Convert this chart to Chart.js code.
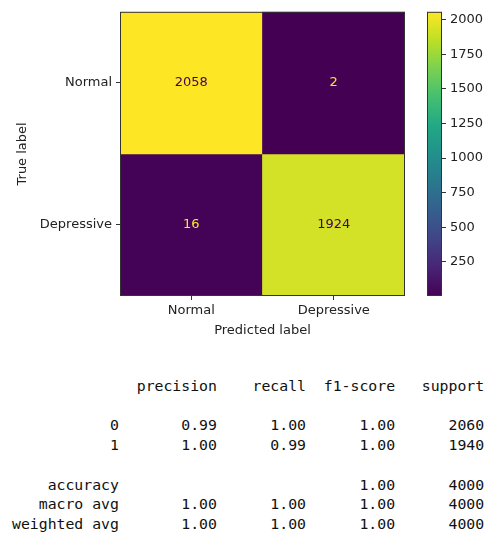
<!DOCTYPE html>
<html>
<head>
<meta charset="utf-8">
<script src="https://cdn.jsdelivr.net/npm/chart.js@4"></script>
<style>
  html, body { margin: 0; padding: 0; background: #fff; width: 487px; height: 539px; overflow: hidden; }
  #matrix { position: absolute; left: 0; top: 0; }
  #colorbar { position: absolute; left: 410px; top: 0; }
  #report {
    position: absolute; left: 12px; top: 376px; margin: 0;
    font-family: 'DejaVu Sans Mono', monospace; font-size: 14.8px; line-height: 19.7px;
    color: #111; white-space: pre;
  }
</style>
</head>
<body>
<canvas id="matrix" width="410" height="342"></canvas>
<canvas id="colorbar" width="77" height="342"></canvas>
<pre id="report"></pre>
<script>
// Confusion matrix: rows = true label, columns = predicted label
const trueLabels = ['Normal', 'Depressive'];
const predictedLabels = ['Normal', 'Depressive'];
const counts = [
  [2058, 2],
  [16, 1924]
];
const colorbarTicks = [250, 500, 750, 1000, 1250, 1500, 1750, 2000];

// Classification report
const reportHeader = ['precision', 'recall', 'f1-score', 'support'];
const reportClasses = ['0', '1'];
const precision = [0.99, 1.00];
const recall = [1.00, 0.99];
const f1Score = [1.00, 1.00];
const support = [2060, 1940];
const accuracy = 1.00;
const totalSupport = 4000;
const macroAvg = [1.00, 1.00, 1.00];
const weightedAvg = [1.00, 1.00, 1.00];

// Viridis colour map
const VIRIDIS = ['#440154', '#482475', '#414487', '#355f8d', '#2a788e', '#21918c',
                 '#22a884', '#44bf70', '#7ad151', '#bddf26', '#fde725'];
function hexToRgb(h) { return [1, 3, 5].map(i => parseInt(h.slice(i, i + 2), 16)); }
function viridis(t) {
  t = Math.max(0, Math.min(1, t));
  const s = t * (VIRIDIS.length - 1);
  const i = Math.min(VIRIDIS.length - 2, Math.floor(s));
  const f = s - i;
  const a = hexToRgb(VIRIDIS[i]), b = hexToRgb(VIRIDIS[i + 1]);
  const c = a.map((v, k) => Math.round(v + (b[k] - v) * f));
  return `rgb(${c[0]},${c[1]},${c[2]})`;
}

const allCounts = counts.flat();
const vmin = Math.min(...allCounts);
const vmax = Math.max(...allCounts);
const norm = v => (v - vmin) / (vmax - vmin);

const FONT = { family: 'DejaVu Sans', size: 13 };
const TEXT = '#222';
const LINE = '#333';

// Count labels in the centre of each cell
const cellText = {
  id: 'cellText',
  afterDatasetsDraw(chart) {
    const ctx = chart.ctx;
    const thresh = (vmin + vmax) / 2;
    ctx.save();
    ctx.font = '13px "DejaVu Sans"';
    ctx.textAlign = 'center';
    ctx.textBaseline = 'middle';
    chart.data.datasets.forEach((ds, r) => {
      chart.getDatasetMeta(r).data.forEach((bar, c) => {
        const v = counts[r][c];
        ctx.fillStyle = v < thresh ? viridis(1) : viridis(0);
        ctx.fillText(String(v), bar.x, (bar.y + bar.base) / 2);
      });
    });
    ctx.restore();
  }
};

// Outline around the plotting area
const frame = {
  id: 'frame',
  afterDraw(chart) {
    const a = chart.chartArea, ctx = chart.ctx;
    ctx.save();
    ctx.strokeStyle = LINE;
    ctx.lineWidth = 1;
    ctx.strokeRect(a.left + 0.5, a.top + 0.5, a.width - 1, a.height - 1);
    ctx.restore();
  }
};

new Chart(document.getElementById('matrix'), {
  type: 'bar',
  data: {
    labels: predictedLabels,
    datasets: trueLabels.map((name, r) => ({
      label: name,
      data: predictedLabels.map(() => [r, r + 1]),
      backgroundColor: counts[r].map(v => viridis(norm(v))),
      borderWidth: 0,
      barPercentage: 1,
      categoryPercentage: 1,
      grouped: false
    }))
  },
  options: {
    responsive: false,
    animation: false,
    devicePixelRatio: 1,
    layout: { padding: { left: 11, top: 10, right: 5, bottom: 0 } },
    plugins: { legend: { display: false }, tooltip: { enabled: false } },
    scales: {
      x: {
        grid: { offset: false, drawOnChartArea: false, drawTicks: true, tickLength: 4, color: LINE },
        border: { display: false },
        ticks: { padding: 3, color: TEXT, font: FONT },
        title: { display: true, text: 'Predicted label', color: TEXT, font: FONT, padding: { top: 4, bottom: 4 } },
        afterFit(s) { s.height = 46; }
      },
      y: {
        type: 'linear',
        min: 0,
        max: 2,
        reverse: true,
        afterBuildTicks(s) { s.ticks = trueLabels.map((_, r) => ({ value: r + 0.5 })); },
        grid: { drawOnChartArea: false, drawTicks: true, tickLength: 4, color: LINE },
        border: { display: false },
        ticks: { padding: 4, color: TEXT, font: FONT, callback: (v, i) => trueLabels[i] },
        title: { display: true, text: 'True label', color: TEXT, font: FONT, padding: { top: 4, bottom: 4 } },
        afterFit(s) { s.width = 109; }
      }
    }
  },
  plugins: [cellText, frame]
});

new Chart(document.getElementById('colorbar'), {
  type: 'bar',
  data: {
    labels: [''],
    datasets: [{
      data: [[vmin, vmax]],
      backgroundColor(c) {
        const chart = c.chart;
        if (!chart.chartArea) return null;
        const y = chart.scales.y;
        const g = chart.ctx.createLinearGradient(0, y.getPixelForValue(vmin), 0, y.getPixelForValue(vmax));
        VIRIDIS.forEach((col, i) => g.addColorStop(i / (VIRIDIS.length - 1), col));
        return g;
      },
      borderWidth: 0,
      barPercentage: 1,
      categoryPercentage: 1
    }]
  },
  options: {
    responsive: false,
    animation: false,
    devicePixelRatio: 1,
    layout: { padding: { left: 17, top: 11, right: 0, bottom: 46 } },
    plugins: { legend: { display: false }, tooltip: { enabled: false } },
    scales: {
      x: { display: false },
      y: {
        position: 'right',
        min: vmin,
        max: vmax,
        afterBuildTicks(s) { s.ticks = colorbarTicks.map(v => ({ value: v })); },
        grid: { drawOnChartArea: false, drawTicks: true, tickLength: 4, color: LINE },
        border: { display: false },
        ticks: { padding: 4, color: TEXT, font: FONT, callback: v => String(v) },
        afterFit(s) { s.width = 45; }
      }
    }
  },
  plugins: [frame]
});

// Text report
const NAME_W = 12;
const fmt = v => v.toFixed(2);
function reportLine(name, cols) {
  return name.padStart(NAME_W) + ' ' + cols.map(c => ' ' + c.padStart(9)).join('');
}
const lines = [
  reportLine('', reportHeader),
  '',
  ...reportClasses.map((cls, i) =>
    reportLine(cls, [fmt(precision[i]), fmt(recall[i]), fmt(f1Score[i]), String(support[i])])),
  '',
  reportLine('accuracy', ['', '', fmt(accuracy), String(totalSupport)]),
  reportLine('macro avg', [...macroAvg.map(fmt), String(totalSupport)]),
  reportLine('weighted avg', [...weightedAvg.map(fmt), String(totalSupport)])
];
document.getElementById('report').textContent = lines.join('\n');
</script>
</body>
</html>
